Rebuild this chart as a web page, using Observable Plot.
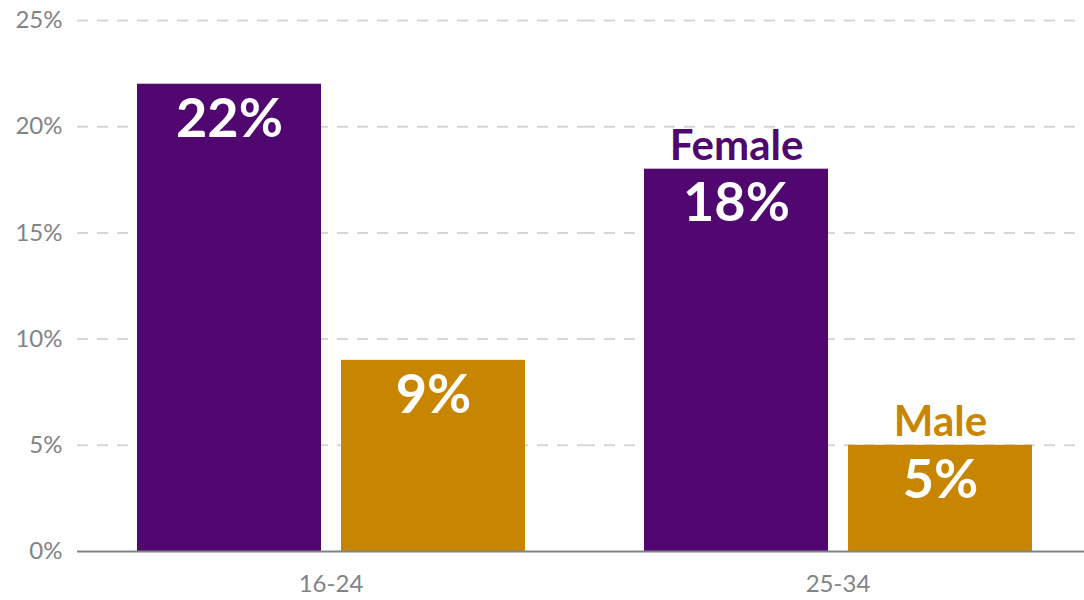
<!DOCTYPE html>
<html>
<head>
<meta charset="utf-8">
<script src="https://cdn.jsdelivr.net/npm/d3@7"></script>
<script src="https://cdn.jsdelivr.net/npm/@observablehq/plot@0.6"></script>
<style>
  html, body { margin: 0; padding: 0; background: #fff; }
</style>
</head>
<body>
<div id="chart"></div>
<script>
const ages = ["16-24", "25-34"];
const sexes = ["Female", "Male"];
const femaleValues = [22, 18];
const maleValues = [9, 5];
const yTicks = [0, 5, 10, 15, 20, 25];
const colors = ["#50076f", "#c88600"];

const data = [];
ages.forEach((age, i) => {
  data.push({age, sex: "Female", value: femaleValues[i]});
  data.push({age, sex: "Male", value: maleValues[i]});
});
const seriesLabels = data.filter(d => d.age === "25-34");

const chart = Plot.plot({
  width: 1084,
  height: 600,
  marginLeft: 77,
  marginRight: 0,
  marginTop: 20,
  marginBottom: 49,
  style: {fontFamily: "Lato, 'Open Sans', sans-serif", fontSize: "24px", color: "#7f8486", background: "#fff"},
  fx: {domain: ages, paddingInner: 0, paddingOuter: -0.007, align: 0, label: null, axis: "bottom", tickSize: 0, tickPadding: 23},
  x: {domain: sexes, paddingInner: 0.1, paddingOuter: 0.29, axis: null},
  y: {domain: [0, 25], ticks: yTicks, tickFormat: d => d + "%", label: null, tickSize: 0, tickPadding: 15},
  color: {domain: sexes, range: colors},
  marks: [
    Plot.ruleY(yTicks.filter(t => t > 0), {stroke: "#d6d6d6", strokeWidth: 2, strokeDasharray: "11,9"}),
    Plot.barY(data, {fx: "age", x: "sex", y: "value", fill: "sex"}),
    Plot.ruleY([0], {stroke: "#7f8487", strokeWidth: 2}),
    Plot.text(data, {fx: "age", x: "sex", y: "value", text: d => d.value + "%", dy: 35, fill: "white", fontSize: 54, fontWeight: "bold"}),
    Plot.text(seriesLabels, {fx: "age", x: "sex", y: "value", text: "sex", dy: -23, fill: "sex", fontSize: 42, fontWeight: "bold"})
  ]
});
document.getElementById("chart").appendChild(chart);
</script>
</body>
</html>
